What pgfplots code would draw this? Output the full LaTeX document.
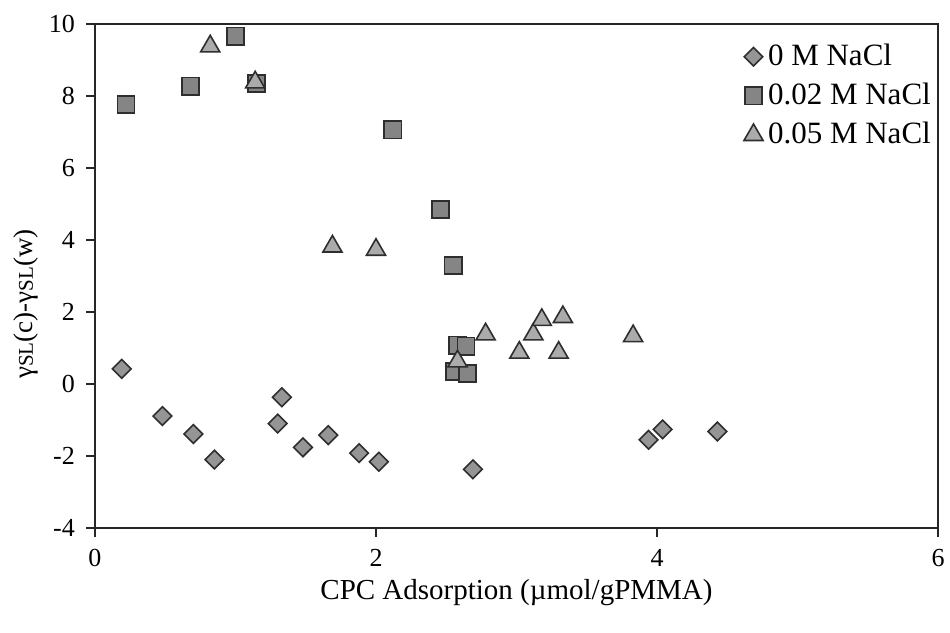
\documentclass[border=0pt]{standalone}
\usepackage{fontspec}
\setmainfont{Liberation Serif}
\usepackage{pgfplots}
\pgfplotsset{compat=1.18}
\usetikzlibrary{calc}
\definecolor{edge}{HTML}{2E2E2E}
\definecolor{dfill}{HTML}{959595}
\definecolor{sfill}{HTML}{858585}
\definecolor{tfill}{HTML}{ABABAB}
\begin{document}
\fontsize{24}{28}\selectfont
\begin{tikzpicture}
\begin{axis}[
  name=ax,
  scale only axis,
  width=843pt, height=504pt,
  xmin=0, xmax=6, ymin=-4, ymax=10,
  xtick={0,2,4,6}, ytick={-4,-2,0,2,4,6,8,10},
  xtick pos=left, ytick pos=left,
  tick align=outside,
  major tick length=9pt,
  axis line style={line width=1.4pt, color=black!85},
  every tick/.style={line width=1.2pt, color=black!85},
  /pgf/number format/assume math mode=true,
  ticklabel style={font=\fontsize{26}{30}\selectfont},
  xticklabel style={yshift=-4pt},
  yticklabel style={xshift=-3pt},
  xlabel={CPC Adsorption (µmol/gPMMA)},
  ylabel={γ{\fontsize{21}{24}\selectfont SL}(c)-γ{\fontsize{21}{24}\selectfont SL}(w)},
  xlabel style={font=\fontsize{29}{32}\selectfont, yshift=4pt},
  ylabel style={font=\fontsize{27}{30}\selectfont, xshift=-28pt, yshift=-6pt},
  legend style={at={(1,1)}, anchor=north east, draw=none, fill=none,
    font=\fontsize{31}{34}\selectfont, row sep=10pt, column sep=3pt,
    xshift=-2pt, yshift=-16pt},
  legend cell align=left,
]
\addplot[only marks, mark=square*, mark size=6.6pt,
  mark options={rotate=45, fill=dfill, draw=edge, line width=1.6pt}]
  coordinates {
  (0.19,0.42) (0.48,-0.89) (0.70,-1.39) (0.85,-2.10) (1.30,-1.10)
  (1.33,-0.37) (1.48,-1.76) (1.66,-1.42) (1.88,-1.92) (2.02,-2.16)
  (2.69,-2.37) (3.94,-1.55) (4.04,-1.26) (4.43,-1.32)};
\addlegendentry{0 M NaCl}
\addplot[only marks, mark=square*, mark size=8.6pt,
  mark options={fill=sfill, draw=edge, line width=1.6pt}]
  coordinates {
  (0.22,7.76) (0.68,8.27) (1.00,9.66) (1.15,8.35) (2.12,7.06)
  (2.46,4.85) (2.55,3.29) (2.58,1.08) (2.64,1.05) (2.56,0.35) (2.65,0.29)};
\addlegendentry{0.02 M NaCl}
\addplot[only marks, mark=triangle*, mark size=11pt,
  mark options={fill=tfill, draw=edge, line width=1.6pt}]
  coordinates {
  (0.82,9.38) (1.14,8.38) (1.69,3.82) (2.00,3.73) (2.58,0.63)
  (2.78,1.38) (3.02,0.87) (3.12,1.38) (3.18,1.78) (3.33,1.86)
  (3.30,0.87) (3.83,1.33)};
\addlegendentry{0.05 M NaCl}
\end{axis}
\pgfresetboundingbox
\path[use as bounding box] ($(ax.south west)+(-95pt,-105pt)$) rectangle ($(ax.north east)+(12pt,24pt)$);
\end{tikzpicture}
\end{document}
